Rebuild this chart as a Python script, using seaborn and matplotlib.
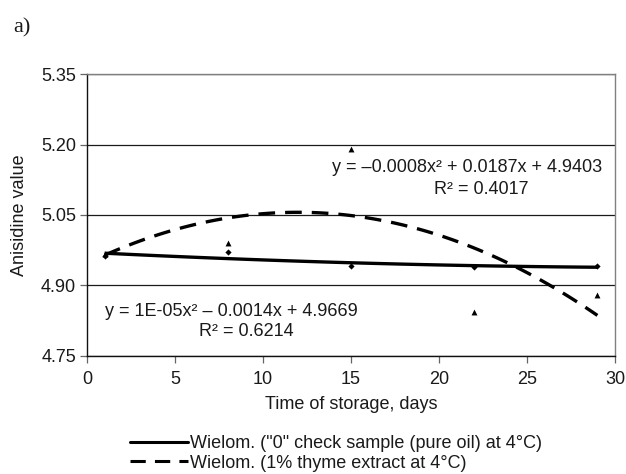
import numpy as np
import pandas as pd
import matplotlib
matplotlib.use("Agg")
import matplotlib.pyplot as plt
from matplotlib.lines import Line2D
import seaborn as sns

# ---- data ----
days = [1, 8, 15, 22, 29]
pure_oil = [4.963, 4.970, 4.940, 4.939, 4.941]
thyme = [4.967, 4.990, 5.191, 4.843, 4.880]
y_ticks = [4.75, 4.90, 5.05, 5.20, 5.35]
x_ticks = [0, 5, 10, 15, 20, 25, 30]
label_pure = 'Wielom. ("0" check sample (pure oil) at 4°C)'
label_thyme = 'Wielom. (1% thyme extract at 4°C)'
eq_thyme = "y = \u20130.0008x\u00b2 + 0.0187x + 4.9403"
r2_thyme = "R\u00b2 = 0.4017"
eq_pure = "y = 1E-05x\u00b2 \u2013 0.0014x + 4.9669"
r2_pure = "R\u00b2 = 0.6214"

df = pd.DataFrame({"day": days, "pure": pure_oil, "thyme": thyme})

sns.set_style("white")
plt.rcParams["font.family"] = ["Liberation Sans", "DejaVu Sans"]

W, H = 626, 474
fig = plt.figure(figsize=(W / 100, H / 100), dpi=100)
L, R, T, B = 87, 615, 74.3, 355.5
ax = fig.add_axes([L / W, 1 - B / H, (R - L) / W, (B - T) / H])

FS = 13
TXT = "#1a1a1a"

# trend lines (2nd order polynomial fits)
sns.regplot(data=df, x="day", y="pure", order=2, ci=None, scatter=False, truncate=True,
            ax=ax, line_kws=dict(color="black", lw=2.4, solid_capstyle="butt"))
sns.regplot(data=df, x="day", y="thyme", order=2, ci=None, scatter=False, truncate=True,
            ax=ax, line_kws=dict(color="black", lw=2.4, dashes=(5, 3)))

# data points
sns.scatterplot(data=df, x="day", y="pure", marker="D", s=10, color="black",
                edgecolor="black", linewidth=0, ax=ax, zorder=5)
sns.scatterplot(data=df, x="day", y="thyme", marker="^", s=18, color="black",
                edgecolor="black", linewidth=0, ax=ax, zorder=5)

ax.set_xlim(0, 30)
ax.set_ylim(4.75, 5.35)
ax.set_xticks(x_ticks)
ax.set_yticks(y_ticks)
ax.set_yticklabels([f"{v:.2f}" for v in y_ticks])
ax.yaxis.grid(True, color="#1a1a1a", lw=0.9)
ax.xaxis.grid(False)
ax.spines["left"].set_color("#111111")
ax.spines["bottom"].set_color("#111111")
ax.spines["top"].set_color("#808080")
ax.spines["right"].set_color("#808080")
for s in ax.spines.values():
    s.set_linewidth(1.0)
ax.tick_params(axis="both", direction="out", length=5, width=0.9, color="#666666",
               labelsize=FS, labelcolor=TXT)
ax.tick_params(axis="x", bottom=True, pad=6)
ax.tick_params(axis="y", left=True, pad=3)
ax.set_xlabel("Time of storage, days", fontsize=FS, color=TXT, labelpad=6)
ax.set_ylabel("Anisidine value", fontsize=FS, color=TXT, labelpad=9)

def px(x, y):
    return (x / W, 1 - y / H)

fig.text(*px(467, 168), eq_thyme, ha="center", va="center", fontsize=FS, color=TXT)
fig.text(*px(481, 190), r2_thyme, ha="center", va="center", fontsize=FS, color=TXT)
fig.text(*px(231, 311.5), eq_pure, ha="center", va="center", fontsize=FS, color=TXT)
fig.text(*px(246, 331), r2_pure, ha="center", va="center", fontsize=FS, color=TXT)

fig.text(*px(13, 28), "a)", fontsize=16, ha="left", va="center", color=TXT,
         family=["Liberation Serif", "DejaVu Serif"])

handles = [Line2D([0], [0], color="black", lw=2.2),
           Line2D([0], [0], color="black", lw=2.2, dashes=(5, 3))]
fig.legend(handles, [label_pure, label_thyme], loc="center left",
           bbox_to_anchor=(130 / W, 1 - 453.5 / H), frameon=False,
           fontsize=FS, handlelength=3.2, handletextpad=0.1,
           labelspacing=0.12, borderpad=0, borderaxespad=0, labelcolor=TXT)

fig.savefig("out.png", dpi=100)
